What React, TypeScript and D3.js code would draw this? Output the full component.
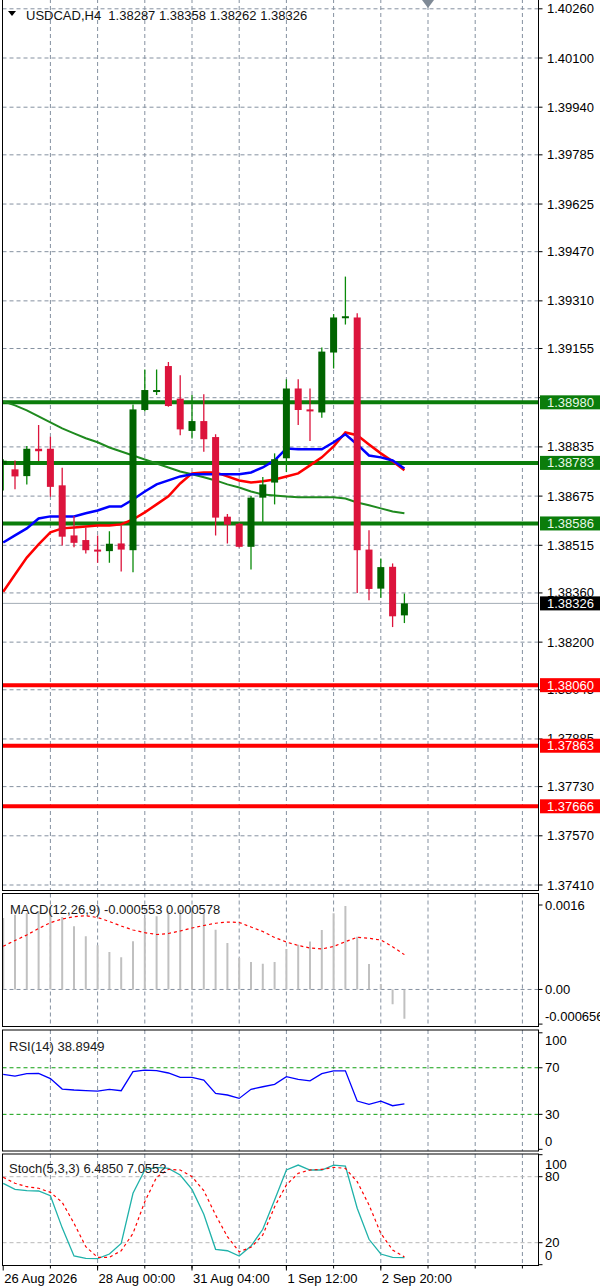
import React, { CSSProperties } from 'react';
import * as d3 from 'd3';

// ---- data ----
const symbolTitle = 'USDCAD,H4';
const headerOHLC = ['1.38287', '1.38358', '1.38262', '1.38326'];

const opens = [
  1.38778, 1.38762, 1.3874, 1.38829, 1.38829, 1.3871, 1.38547, 1.38532, 1.38501, 1.38496,
  1.38521, 1.38499, 1.38955, 1.39016, 1.39098, 1.38992, 1.38887, 1.38919, 1.38867, 1.38608,
  1.38585, 1.3851, 1.3867, 1.38719, 1.38798, 1.39025, 1.38957, 1.38947, 1.39142, 1.39256,
  1.39256, 1.38501, 1.38374, 1.38445, 1.38287,
];
const highs = [
  1.38795, 1.38791, 1.38838, 1.38906, 1.38868, 1.38767, 1.3861, 1.38572, 1.38547, 1.38561,
  1.38579, 1.38973, 1.39087, 1.39087, 1.39111, 1.39068, 1.39004, 1.39006, 1.38876, 1.38617,
  1.38588, 1.38675, 1.38737, 1.38814, 1.39055, 1.39055, 1.39025, 1.39158, 1.39267, 1.39389,
  1.3927, 1.38564, 1.38472, 1.38456, 1.38358,
];
const lows = [
  1.38693, 1.38697, 1.38713, 1.38789, 1.38673, 1.38514, 1.38509, 1.38488, 1.38458, 1.38458,
  1.3843, 1.38427, 1.3895, 1.39004, 1.38966, 1.38873, 1.38862, 1.38819, 1.38547, 1.38521,
  1.38508, 1.38436, 1.38588, 1.38648, 1.38753, 1.38906, 1.38854, 1.3893, 1.3909, 1.39233,
  1.3836, 1.38336, 1.38344, 1.38249, 1.38262,
];
const closes = [
  1.3879, 1.38739, 1.38829, 1.38821, 1.38705, 1.38543, 1.38523, 1.38499, 1.38495, 1.3852,
  1.38501, 1.38957, 1.3902, 1.3902, 1.38968, 1.38892, 1.38919, 1.3886, 1.38605, 1.38582,
  1.3851, 1.3867, 1.38713, 1.38795, 1.39025, 1.38955, 1.38951, 1.39145, 1.39256, 1.3926,
  1.38499, 1.38373, 1.38444, 1.38284, 1.38326,
];

// moving averages (blue, red, green)
const maBlue = [
  1.38524, 1.38547, 1.3857, 1.38602, 1.38609, 1.38609, 1.38609, 1.38619, 1.38628, 1.38641,
  1.38641, 1.38664, 1.3869, 1.38713, 1.38726, 1.38739, 1.38746, 1.38746, 1.38746, 1.38746,
  1.38746, 1.38752, 1.38768, 1.38791, 1.3883, 1.38827, 1.38827, 1.38827, 1.3885, 1.38876,
  1.38843, 1.38807, 1.38801, 1.38791, 1.38765,
];
const maRed = [
  1.38364, 1.3842, 1.38475, 1.38518, 1.38557, 1.3857, 1.38573, 1.38576, 1.38579, 1.38579,
  1.38583, 1.38599, 1.38622, 1.38648, 1.38674, 1.38716, 1.38749, 1.38752, 1.38752, 1.38739,
  1.38726, 1.38719, 1.38723, 1.38729, 1.38739, 1.38749, 1.38775, 1.38801, 1.38837, 1.38882,
  1.38873, 1.38843, 1.38814, 1.38788, 1.38759,
];
const maGreen = [
  1.38983, 1.3897, 1.38954, 1.38934, 1.38915, 1.38895, 1.38879, 1.38863, 1.3885, 1.38833,
  1.3882, 1.38807, 1.38794, 1.38781, 1.38768, 1.38755, 1.38746, 1.38736, 1.38726, 1.38713,
  1.38703, 1.3869, 1.3868, 1.38677, 1.38674, 1.38671, 1.38671, 1.38671, 1.38671, 1.38667,
  1.38654, 1.38645, 1.38635, 1.38625, 1.38619,
];

const macdHist = [
  0.001354, 0.001416, 0.001449, 0.001486, 0.001486, 0.001373, 0.001197, 0.001007, 0.000837, 0.00071,
  0.00061, 0.000913, 0.001354, 0.001386, 0.001481, 0.001511, 0.001511, 0.001435, 0.001132, 0.00088,
  0.000596, 0.000521, 0.000489, 0.000521, 0.000767, 0.000848, 0.000909, 0.001127, 0.001443, 0.001581,
  0.001, 0.000483, 0.000104, -0.00028, -0.000553,
];
const macdSignal = [
  0.000818, 0.000928, 0.001032, 0.001155, 0.001265, 0.001335, 0.001378, 0.001397, 0.001363, 0.001288,
  0.001202, 0.001127, 0.001076, 0.001041, 0.00106, 0.001108, 0.001165, 0.001212, 0.001254, 0.001278,
  0.001269, 0.001183, 0.001098, 0.000985, 0.000899, 0.000833, 0.000786, 0.000767, 0.000814, 0.000905,
  0.000988, 0.000969, 0.000937, 0.00081, 0.00066,
];

const rsiValues = [
  64.3, 62.9, 65.0, 65.2, 60.7, 51.7, 50.9, 50.4, 50.0, 51.5,
  50.3, 66.6, 68.0, 67.6, 65.5, 61.8, 61.8, 59.4, 48.0, 46.6,
  43.7, 51.5, 53.7, 55.8, 62.3, 60.0, 58.8, 65.0, 67.4, 67.4,
  41.4, 38.6, 41.4, 37.4, 38.9,
];

const stochMain = [
  74.0, 68.5, 67.3, 67.0, 62.7, 33.5, 7.9, 5.8, 5.5, 9.7,
  19.4, 64.9, 86.1, 88.5, 87.6, 81.5, 68.5, 45.8, 14.0, 12.7,
  7.9, 17.0, 32.2, 58.8, 86.1, 90.6, 86.1, 86.1, 90.6, 89.7,
  51.3, 23.1, 9.7, 6.7, 6.5,
];
const stochSignal = [
  79.5, 74.0, 70.9, 69.5, 65.8, 56.7, 37.6, 16.4, 6.7, 6.7,
  12.7, 28.5, 57.3, 79.5, 86.7, 86.1, 80.0, 67.3, 45.2, 25.5,
  11.8, 15.8, 27.0, 52.7, 72.5, 83.1, 86.1, 86.7, 88.5, 87.6,
  75.5, 54.3, 28.5, 13.4, 7.1,
];

const priceTicks = [
  1.4026, 1.401, 1.3994, 1.39785, 1.39625, 1.3947, 1.3931, 1.39155, 1.38995, 1.38835,
  1.38675, 1.38515, 1.3836, 1.382, 1.38045, 1.37885, 1.3773, 1.3757, 1.3741,
];
const greenLevels = [1.3898, 1.38783, 1.38586];
const redLevels = [1.3806, 1.37863, 1.37666];
const lastPrice = 1.38326;

const timeTickBars = [0, 8, 16, 24, 32];
const timeTickLabels = ['26 Aug 2026', '28 Aug 00:00', '31 Aug 04:00', '1 Sep 12:00', '2 Sep 20:00'];

const macdTicks = [0.0016, 0, -0.000656];
const macdTickLabels = ['0.0016', '0.00', '-0.000656'];
const rsiTicks = [100, 70, 30, 0];
const rsiLevels = [70, 30];
const stochTicks = [100, 80, 20, 0];
const stochLevels = [80, 20];

// ---- layout ----
const W = 600;
const H = 1288;
const left = 2.5;
const right = 538.5;
const mainPanel = { top: -1, bottom: 890.5 };
const macdPanel = { top: 893.5, bottom: 1026.5 };
const rsiPanel = { top: 1030, bottom: 1151 };
const stochPanel = { top: 1154, bottom: 1265.5 };

const FONT = '"Liberation Sans", Arial, sans-serif';
const BULL = '#006400';
const BULL_WICK = '#0a8a0a';
const BEAR = '#dc143c';
const GRID = '#8591a0';

const x = d3.scaleLinear().domain([0, 45]).range([3.2, 3.2 + 45 * 11.8]);
const price = d3.scaleLinear().domain([1.3741, 1.401]).range([885, 58]);
const macdY = d3.scaleLinear().domain([-0.000656, 0.0016]).range([1024.1, 905]);
const rsiY = d3.scaleLinear().domain([0, 100]).range([1149.3, 1032.8]);
const stochY = d3.scaleLinear().domain([0, 100]).range([1264.7, 1154.7]);

const gridBars = d3.range(4, 45, 4);

const textStyle: CSSProperties = { fontFamily: FONT, fontSize: 13 };

const clampLabel = (y: number, p: { top: number; bottom: number }) =>
  Math.min(Math.max(y, p.top + 10), p.bottom - 10);

// a scale label sitting just above a level box is fully covered by it in the terminal
const coveredByBox = (t: number) =>
  [...greenLevels, ...redLevels].some((l) => {
    const d = price(l) - price(t);
    return d > 0 && d < 6;
  });

const seriesLine = (vals: number[], y: d3.ScaleLinear<number, number>) =>
  d3.line<number>().x((_, i) => x(i)).y((v) => y(v))(vals) || '';

const VGrid = ({ p }: { p: { top: number; bottom: number } }) => (
  <g>
    {gridBars.map((b) => (
      <line key={b} x1={x(b)} x2={x(b)} y1={p.top} y2={p.bottom} stroke={GRID} strokeDasharray="4 3" />
    ))}
  </g>
);

const PanelFrame = ({ p }: { p: { top: number; bottom: number } }) => (
  <rect x={left} y={p.top} width={right - left} height={p.bottom - p.top} fill="none" stroke="#000" />
);

const PriceBox = ({ v, bg, fg }: { v: number; bg: string; fg: string }) => (
  <g>
    <rect x={540} y={price(v) - 7} width={60} height={14} fill={bg} />
    <text x={547} y={price(v)} dominantBaseline="central" fill={fg} style={textStyle}>
      {v.toFixed(5)}
    </text>
  </g>
);

export default function App() {
  return (
    <div style={{ position: 'absolute', left: 0, top: 0, background: '#fff' }}>
      <svg width={W} height={H} style={{ display: 'block' }}>
        <defs>
          <clipPath id="clipMain">
            <rect x={left} y={0} width={right - left} height={mainPanel.bottom} />
          </clipPath>
          <clipPath id="clipMacd">
            <rect x={left} y={macdPanel.top} width={right - left} height={macdPanel.bottom - macdPanel.top} />
          </clipPath>
          <clipPath id="clipRsi">
            <rect x={left} y={rsiPanel.top} width={right - left} height={rsiPanel.bottom - rsiPanel.top} />
          </clipPath>
          <clipPath id="clipStoch">
            <rect x={left} y={stochPanel.top} width={right - left} height={stochPanel.bottom - stochPanel.top} />
          </clipPath>
        </defs>
        <rect width={W} height={H} fill="#fff" />

        {/* ---- main price panel ---- */}
        <g clipPath="url(#clipMain)">
          <VGrid p={mainPanel} />
          {priceTicks.map((t) => (
            <line key={t} x1={left} x2={right} y1={price(t)} y2={price(t)} stroke={GRID} strokeDasharray="4 3" />
          ))}
          <line x1={left} x2={right} y1={price(lastPrice)} y2={price(lastPrice)} stroke="#a3acb6" />
          {greenLevels.map((v) => (
            <line key={v} x1={left} x2={right} y1={price(v)} y2={price(v)} stroke="#0b7d0b" strokeWidth={4} />
          ))}
          {redLevels.map((v) => (
            <line key={v} x1={left} x2={right} y1={price(v)} y2={price(v)} stroke="#ff0000" strokeWidth={4} />
          ))}
          <path d={seriesLine(maGreen, price)} fill="none" stroke="#1f8a1f" strokeWidth={2} />
          <path d={seriesLine(maRed, price)} fill="none" stroke="#ff0000" strokeWidth={2.5} />
          <path d={seriesLine(maBlue, price)} fill="none" stroke="#0000ff" strokeWidth={2.5} />
          {opens.map((o, i) => {
            const c = closes[i];
            const bull = c >= o;
            const yTop = price(Math.max(o, c));
            const yBot = price(Math.min(o, c));
            return (
              <g key={i}>
                <line
                  x1={x(i)}
                  x2={x(i)}
                  y1={price(highs[i])}
                  y2={price(lows[i])}
                  stroke={bull ? BULL_WICK : BEAR}
                  strokeWidth={1.3}
                />
                <rect
                  x={x(i) - 3.5}
                  y={yTop}
                  width={7}
                  height={Math.max(2, yBot - yTop)}
                  fill={bull ? BULL : BEAR}
                />
              </g>
            );
          })}
          <path d="M8,11 L16,11 L12,16 Z" fill="#000" />
          <text x={26} y={15} dominantBaseline="central" fill="#111" style={{ ...textStyle, whiteSpace: 'pre' }}>
            {`${symbolTitle}  ${headerOHLC.join(' ')}`}
          </text>
          <path d="M422,0 L434,0 L428,8 Z" fill="#7f8a96" />
        </g>
        <PanelFrame p={mainPanel} />

        {/* price axis */}
        {priceTicks.map((t) => (
          <g key={t}>
            <line x1={right} x2={right + 4} y1={price(t)} y2={price(t)} stroke="#000" />
            {!coveredByBox(t) && (
              <text x={547} y={price(t)} dominantBaseline="central" fill="#000" style={textStyle}>
                {t.toFixed(5)}
              </text>
            )}
          </g>
        ))}
        {greenLevels.map((v) => (
          <PriceBox key={v} v={v} bg="#0b7d0b" fg="#e8f8e8" />
        ))}
        {redLevels.map((v) => (
          <PriceBox key={v} v={v} bg="#ff0000" fg="#ffffff" />
        ))}
        <PriceBox v={lastPrice} bg="#000" fg="#fff" />

        {/* ---- MACD panel ---- */}
        <g clipPath="url(#clipMacd)">
          <VGrid p={macdPanel} />
          <line x1={left} x2={right} y1={macdY(0)} y2={macdY(0)} stroke={GRID} strokeDasharray="4 3" />
          {macdHist.map((v, i) => (
            <line key={i} x1={x(i)} x2={x(i)} y1={macdY(0)} y2={macdY(v)} stroke="#c0c0c0" strokeWidth={2} />
          ))}
          <path d={seriesLine(macdSignal, macdY)} fill="none" stroke="#ff0000" strokeWidth={1.2} strokeDasharray="3 3" />
          <text x={10} y={909} dominantBaseline="central" fill="#1a1a1a" style={textStyle}>
            MACD(12,26,9) -0.000553 0.000578
          </text>
        </g>
        <PanelFrame p={macdPanel} />
        {macdTicks.map((t, k) => (
          <g key={k}>
            <line x1={right} x2={right + 4} y1={macdY(t)} y2={macdY(t)} stroke="#000" />
            <text x={545} y={clampLabel(macdY(t), macdPanel)} dominantBaseline="central" style={textStyle}>
              {macdTickLabels[k]}
            </text>
          </g>
        ))}

        {/* ---- RSI panel ---- */}
        <g clipPath="url(#clipRsi)">
          <VGrid p={rsiPanel} />
          {rsiLevels.map((l) => (
            <line key={l} x1={left} x2={right} y1={rsiY(l)} y2={rsiY(l)} stroke="#10a010" strokeDasharray="4 3" />
          ))}
          <path d={seriesLine(rsiValues, rsiY)} fill="none" stroke="#0000ff" strokeWidth={1.3} />
          <text x={9} y={1046} dominantBaseline="central" fill="#1a1a1a" style={textStyle}>
            RSI(14) 38.8949
          </text>
        </g>
        <PanelFrame p={rsiPanel} />
        {rsiTicks.map((t) => (
          <g key={t}>
            <line x1={right} x2={right + 4} y1={rsiY(t)} y2={rsiY(t)} stroke="#000" />
            <text x={545} y={clampLabel(rsiY(t), rsiPanel)} dominantBaseline="central" style={textStyle}>
              {t}
            </text>
          </g>
        ))}

        {/* ---- Stochastic panel ---- */}
        <g clipPath="url(#clipStoch)">
          <VGrid p={stochPanel} />
          {stochLevels.map((l) => (
            <line key={l} x1={left} x2={right} y1={stochY(l)} y2={stochY(l)} stroke="#b8b8b8" strokeDasharray="4 3" />
          ))}
          <path d={seriesLine(stochMain, stochY)} fill="none" stroke="#20b2aa" strokeWidth={1.3} />
          <path d={seriesLine(stochSignal, stochY)} fill="none" stroke="#ff0000" strokeWidth={1.2} strokeDasharray="3 3" />
          <text x={9} y={1168} dominantBaseline="central" fill="#1a1a1a" style={textStyle}>
            Stoch(5,3,3) 6.4850 7.0552
          </text>
        </g>
        <PanelFrame p={stochPanel} />
        {stochTicks.map((t) => (
          <g key={t}>
            <line x1={right} x2={right + 4} y1={stochY(t)} y2={stochY(t)} stroke="#000" />
            <text x={545} y={clampLabel(stochY(t), stochPanel)} dominantBaseline="central" style={textStyle}>
              {t}
            </text>
          </g>
        ))}

        {/* ---- time axis ---- */}
        {gridBars.map((b) => (
          <line key={b} x1={x(b)} x2={x(b)} y1={stochPanel.bottom} y2={stochPanel.bottom + 3} stroke="#000" />
        ))}
        {timeTickBars.map((b, k) => (
          <g key={b}>
            <line x1={x(b)} x2={x(b)} y1={stochPanel.bottom} y2={stochPanel.bottom + 5} stroke="#000" />
            <text x={x(b) + 1} y={1278} dominantBaseline="central" fill="#000" style={textStyle}>
              {timeTickLabels[k]}
            </text>
          </g>
        ))}
      </svg>
    </div>
  );
}
